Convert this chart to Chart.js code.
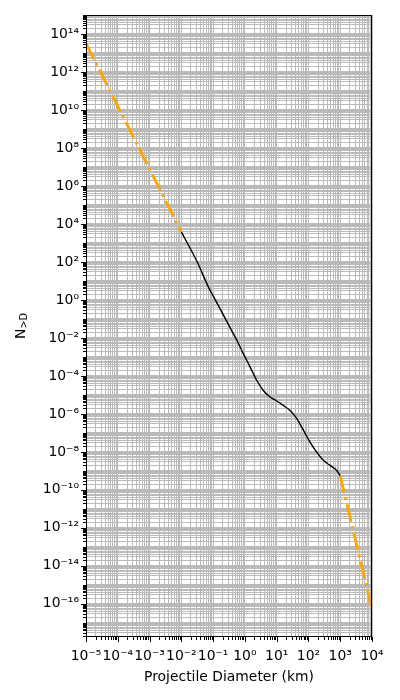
<!DOCTYPE html>
<html>
<head>
<meta charset="utf-8">
<title>Projectile size-frequency</title>
<script src="https://cdn.jsdelivr.net/npm/chart.js@4.4.0/dist/chart.umd.min.js"></script>
<style>
  html, body { margin: 0; padding: 0; background: #fff; }
  #wrap { width: 400px; height: 700px; }
</style>
</head>
<body>
<div id="wrap"><canvas id="chart"></canvas></div>
<script>
// axis limits and labelled decades
const xRange = [1e-5, 1e4];
const yRange = [1.8e-18, 1e15];
const xMajorExp = [-5, -4, -3, -2, -1, 0, 1, 2, 3, 4];
const yMajorExp = [-16, -14, -12, -10, -8, -6, -4, -2, 0, 2, 4, 6, 8, 10, 12, 14];

// fitted cumulative curve, 10 m .. 1000 km
const fitD = [0.01, 0.0316, 0.0708, 0.1, 0.2, 0.38, 0.55, 0.89, 1.45, 2.35, 3.8, 6.2,
              10, 16, 26, 43, 69, 112, 182, 295, 480, 775, 1000];
const fitN = [3.8e3, 1.0e2, 4.9, 1.65, 1.9e-1, 2.5e-2, 7.9e-3, 1.5e-3, 3.0e-4, 5.9e-5, 1.7e-5, 7.8e-6,
              4.8e-6, 2.8e-6, 1.55e-6, 5.6e-7, 1.4e-7, 3.3e-8, 9.8e-9, 3.6e-9, 1.95e-9, 1.05e-9, 5.5e-10];

// power-law extrapolations outside the fit
const smallD = [1e-5, 1e-2];
const smallN = [3.2e13, 3.8e3];
const largeD = [1e3, 1e4];
const largeN = [5.5e-10, 5.5e-17];

const FONT = 'DejaVu Sans';
const FS = 13.9;

const SUP = { '-': '\u207B', '0': '\u2070', '1': '\u00B9', '2': '\u00B2', '3': '\u00B3',
              '4': '\u2074', '5': '\u2075', '6': '\u2076', '7': '\u2077', '8': '\u2078', '9': '\u2079' };
const pow10Label = e => '10' + String(e).split('').map(c => SUP[c]).join('');

// 1..9 x 10^n ticks inside [lo, hi], major on the listed decades
function logTicks(lo, hi, majorExp) {
  const out = [];
  for (let n = Math.floor(Math.log10(lo)); n <= Math.ceil(Math.log10(hi)); n++) {
    for (let s = 1; s <= 9; s++) {
      const v = s * Math.pow(10, n);
      if (v < lo * (1 - 1e-9) || v > hi * (1 + 1e-9)) continue;
      out.push({ value: v, major: s === 1 && majorExp.includes(n), exp: n });
    }
  }
  return out;
}

const pts = (xs, ys) => xs.map((x, i) => ({ x, y: ys[i] }));

// frame, outward tick marks and the N_{>D} label
const decorations = {
  id: 'decorations',
  afterDraw(chart) {
    const { ctx, chartArea: a, scales: { x, y } } = chart;
    ctx.save();
    ctx.strokeStyle = '#000';
    ctx.lineWidth = 1;
    for (const t of x.ticks) {
      const px = Math.round(x.getPixelForValue(t.value)) + 0.5;
      const len = t.major ? 5 : 3;
      ctx.beginPath();
      ctx.moveTo(px, a.bottom);
      ctx.lineTo(px, a.bottom + len);
      ctx.stroke();
    }
    for (const t of y.ticks) {
      const py = Math.round(y.getPixelForValue(t.value)) + 0.5;
      const len = t.major ? 5 : 3;
      ctx.beginPath();
      ctx.moveTo(a.left, py);
      ctx.lineTo(a.left - len, py);
      ctx.stroke();
    }
    ctx.strokeRect(a.left + 0.5, a.top + 0.5, a.right - a.left - 1, a.bottom - a.top - 1);

    const big = FS + 'px "' + FONT + '"';
    const small = (FS * 0.7).toFixed(1) + 'px "' + FONT + '"';
    ctx.font = big;
    const wN = ctx.measureText('N').width;
    ctx.font = small;
    const wS = ctx.measureText('>D').width;
    ctx.translate(25, (a.top + a.bottom) / 2);
    ctx.rotate(-Math.PI / 2);
    ctx.fillStyle = '#000';
    ctx.textBaseline = 'alphabetic';
    const x0 = -(wN + wS) / 2;
    ctx.font = big;
    ctx.fillText('N', x0, 0);
    ctx.font = small;
    ctx.fillText('>D', x0 + wN, 2);
    ctx.restore();
  }
};

const gridOpts = { color: '#bababa', lineWidth: 1, drawTicks: false };
const tickFont = { family: FONT, size: FS };

new Chart(document.getElementById('chart'), {
  type: 'line',
  data: {
    datasets: [
      { data: pts(smallD, smallN), borderColor: '#FFA500', borderWidth: 2.8,
        borderDash: [17.8, 4.4, 2.8, 4.4], pointRadius: 0 },
      { data: pts(largeD, largeN), borderColor: '#FFA500', borderWidth: 2.8,
        borderDash: [17.8, 4.4, 2.8, 4.4], pointRadius: 0 },
      { data: pts(fitD, fitN), borderColor: '#000', borderWidth: 1.4,
        cubicInterpolationMode: 'monotone', pointRadius: 0 }
    ]
  },
  options: {
    responsive: true,
    maintainAspectRatio: false,
    animation: false,
    devicePixelRatio: 1,
    layout: { padding: { left: 0, right: 28, top: 15, bottom: 0 } },
    plugins: { legend: { display: false }, tooltip: { enabled: false } },
    scales: {
      x: {
        type: 'logarithmic',
        min: xRange[0],
        max: xRange[1],
        grid: gridOpts,
        border: { display: false },
        afterBuildTicks: s => { s.ticks = logTicks(xRange[0], xRange[1], xMajorExp); },
        afterFit: s => { s.height = 63; s.paddingLeft = 0; s.paddingRight = 0; },
        ticks: {
          autoSkip: false, maxRotation: 0, minRotation: 0, padding: 11,
          color: '#000', font: tickFont,
          callback: (v, i, ticks) => ticks[i].major ? pow10Label(ticks[i].exp) : ''
        },
        title: {
          display: true, text: 'Projectile Diameter (km)', color: '#000',
          font: tickFont, padding: { top: 0, bottom: 14 }
        }
      },
      y: {
        type: 'logarithmic',
        min: yRange[0],
        max: yRange[1],
        grid: gridOpts,
        border: { display: false },
        afterBuildTicks: s => { s.ticks = logTicks(yRange[0], yRange[1], yMajorExp); },
        afterFit: s => { s.width = 86; s.paddingTop = 0; s.paddingBottom = 0; },
        ticks: {
          autoSkip: false, padding: 7, color: '#000', font: tickFont,
          callback: (v, i, ticks) => ticks[i].major ? pow10Label(ticks[i].exp) : ''
        }
      }
    }
  },
  plugins: [decorations]
});
</script>
</body>
</html>
